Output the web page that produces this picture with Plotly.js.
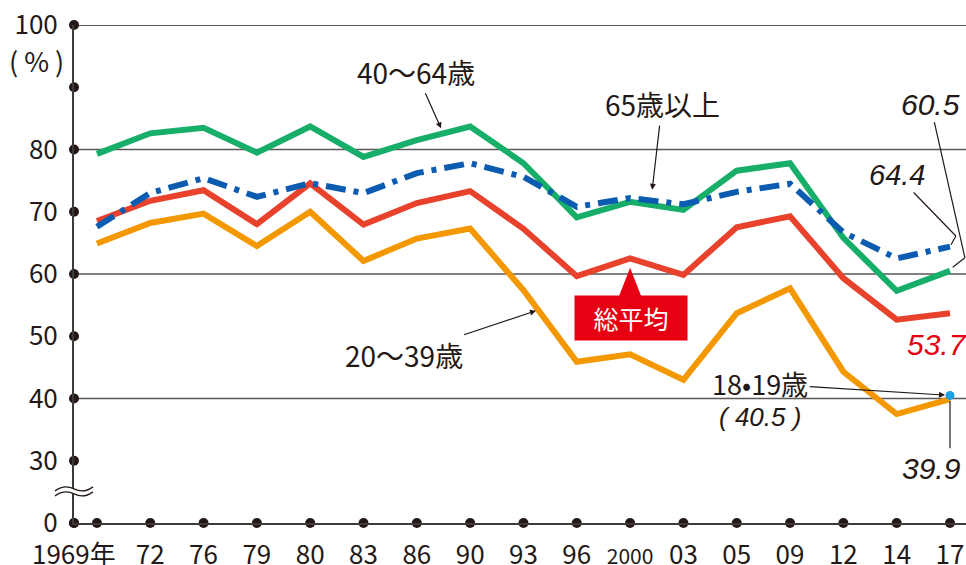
<!DOCTYPE html>
<html>
<head>
<meta charset="utf-8">
<script src="https://cdn.plot.ly/plotly-3.0.1.min.js"></script>
<style>html,body{margin:0;padding:0;background:#fff;}#chart{width:966px;height:565px;}</style>
</head>
<body>
<div id="chart"></div>
<script>
// ---- data ----
const years = ["1969","72","76","79","80","83","86","90","93","96","2000","03","05","09","12","14","17"];
const xLabels = ["","72","76","79","80","83","86","90","93","96","<span style=\"font-size:21px\">2000</span>","03","05","09","12","14","17"];
const age40to64 = [79.3,82.6,83.5,79.5,83.7,78.8,81.5,83.7,77.8,69.1,71.6,70.3,76.6,77.8,65.8,57.3,60.5];
const age65plus = [67.6,73.0,75.4,72.4,74.6,73.0,76.2,77.8,75.6,70.8,72.2,71.2,73.2,74.5,66.7,62.5,64.4];
const overall   = [68.51,71.76,73.45,68.01,74.57,67.94,71.40,73.31,67.26,59.65,62.49,59.86,67.51,69.28,59.32,52.66,53.68];
const age20to39 = [64.9,68.2,69.7,64.5,70.0,62.1,65.7,67.3,57.4,45.9,47.1,43.0,53.7,57.7,44.3,37.5,39.9];
const age18to19Value = 40.5;   // 2017 only
const yTickVals = [20,30,40,50,60,70,80,90,100];
const yTickText = ["0","30","40","50","60","70","80","","100"];
const gridVals = [40,60,80,100];

// ---- layout constants ----
const idx = years.map((_, i) => i);
const last = idx[idx.length - 1];
const xMin = -0.43, xMax = 16.3, yMin = 20, yMax = 100;
const ink = "#231815";
const sans = '"Noto Sans CJK JP","Noto Sans",sans-serif';
const italicF = '"Liberation Sans",Arial,"Noto Sans CJK JP",sans-serif';

const traces = [
  {x: idx, y: age20to39, mode:"lines", line:{color:"#f39800", width:6}, hoverinfo:"skip"},
  {x: idx, y: overall, mode:"lines", line:{color:"#e8412c", width:6}, hoverinfo:"skip"},
  {x: idx, y: age40to64, mode:"lines", line:{color:"#17ae69", width:6}, hoverinfo:"skip"},
  {x: idx, y: age65plus, mode:"lines", line:{color:"#0b5cb0", width:6, dash:"20px,8px,5px,8px"}, hoverinfo:"skip"},
  // tick dots on axes
  {x: yTickVals.map(() => xMin), y: yTickVals, mode:"markers", marker:{color:ink, size:10}, cliponaxis:false, hoverinfo:"skip"},
  {x: [xMin].concat(idx), y: [xMin].concat(idx).map(() => yMin), mode:"markers", marker:{color:ink, size:10}, cliponaxis:false, hoverinfo:"skip"},
  {x: [last], y: [age18to19Value], mode:"markers", marker:{color:"#1aa0e3", size:9}, cliponaxis:false, hoverinfo:"skip"}
];

const shapes = gridVals.map(v => ({type:"line", xref:"paper", yref:"y", x0:0, x1:1, y0:v, y1:v,
  line:{color: v === 100 ? ink : "#595757", width: v === 100 ? 1.6 : 1.3}, layer:"below"}));
// axis break (wavy double line), anchored on the y axis line
const brk = {xref:"paper", yref:"paper", xsizemode:"pixel", ysizemode:"pixel", xanchor:0, yanchor:(25 - yMin) / (yMax - yMin), layer:"above"};
shapes.push(Object.assign({type:"path", path:"M-19,1 Q-9.5,8 0,3 Q9.5,-2 19,5 L19,0 Q9.5,-7 0,-2 Q-9.5,3 -19,-4 Z", fillcolor:"#fff", line:{width:0}}, brk));
shapes.push(Object.assign({type:"path", path:"M-19,1 Q-9.5,8 0,3 Q9.5,-2 19,5", line:{color:ink, width:1.3}}, brk));
shapes.push(Object.assign({type:"path", path:"M-19,-4 Q-9.5,3 0,-2 Q9.5,-7 19,0", line:{color:ink, width:1.3}}, brk));
// leader segments
shapes.push({type:"line", xref:"x", yref:"y", x0:16.28, y0:62.6, x1:16.05, y1:61.1, line:{color:ink, width:1.2}});
shapes.push({type:"line", xref:"x", yref:"y", x0:16.11, y0:66.1, x1:16.02, y1:64.7, line:{color:ink, width:1.2}});
shapes.push({type:"line", xref:"x", yref:"y", x0:last, y0:39.6, x1:last, y1:32.0, line:{color:ink, width:1.2}});
// red pointer triangle for 総平均
shapes.push({type:"path", xref:"x", yref:"y", path:"M 9.78,56.2 L 10.0,61.0 L 10.22,56.2 Z", fillcolor:"#e60012", line:{width:0}});

const lab = (text, x, y, extra) => Object.assign({text, x, y, xref:"x", yref:"y", showarrow:false,
  font:{family:sans, size:28, color:ink}}, extra || {});
const arr = {showarrow:true, arrowhead:2, arrowsize:1, arrowwidth:1.2, arrowcolor:ink, axref:"x", ayref:"y"};

const annotations = [
  {text:"(&nbsp;%&nbsp;)", xref:"paper", yref:"paper", x:-0.042, y:0.928, xanchor:"center", yanchor:"middle", showarrow:false,
   font:{family:sans, size:27, color:ink}},
  {text:"1969年", xref:"x", yref:"paper", x:0, y:0, xanchor:"right", yanchor:"top", xshift:21, yshift:-9, showarrow:false,
   font:{family:sans, size:26, color:ink}},
  lab("40～64歳", 6.47, 83.1, Object.assign({}, arr, {ax:5.98, ay:92.5, standoff:2})),
  lab("65歳以上", 10.41, 73.2, Object.assign({}, arr, {ax:10.6, ay:87.3, standoff:2})),
  lab("20～39歳", 8.27, 54.2, Object.assign({}, arr, {ax:5.75, ay:47.0, standoff:2})),
  lab("18•19歳", last, age18to19Value, Object.assign({}, arr, {ax:12.44, ay:42.4, standoff:5, font:{family:sans, size:27, color:ink}})),
  lab("<i>(&nbsp;40.5&nbsp;)</i>", 12.44, 37.1, {font:{family:italicF, size:26, color:ink}}),
  lab("<i>60.5</i>", 16.28, 62.6, {showarrow:true, arrowhead:0, arrowwidth:1.2, arrowcolor:ink, axref:"x", ayref:"y", ax:15.63, ay:87.3,
      font:{family:italicF, size:30, color:ink}}),
  lab("<i>64.4</i>", 16.11, 66.1, {showarrow:true, arrowhead:0, arrowwidth:1.2, arrowcolor:ink, axref:"x", ayref:"y", ax:15.0, ay:75.9,
      font:{family:italicF, size:29, color:ink}}),
  lab("<i>53.7</i>", 15.76, 48.6, {font:{family:italicF, size:30, color:"#e60012"}}),
  lab("<i>39.9</i>", 15.65, 28.7, {font:{family:italicF, size:30, color:ink}}),
  lab("総平均", 10.02, 52.9, {bgcolor:"#e60012", width:110, height:42,
      font:{family:sans, size:25, color:"#fff"}})
];

const layout = {
  width:966, height:565,
  margin:{l:74, r:0, t:25, b:42},
  paper_bgcolor:"#fff", plot_bgcolor:"#fff",
  showlegend:false,
  xaxis:{range:[xMin, xMax], tickvals:idx, ticktext:xLabels, showgrid:false, zeroline:false,
         showline:true, linecolor:"#3e3a39", linewidth:2, ticks:"outside", ticklen:8, tickcolor:"rgba(0,0,0,0)",
         tickfont:{family:sans, size:26, color:ink}},
  yaxis:{range:[yMin, yMax], tickvals:yTickVals, ticktext:yTickText, showgrid:false, zeroline:false,
         showline:true, linecolor:"#3e3a39", linewidth:2, ticks:"outside", ticklen:9, tickcolor:"rgba(0,0,0,0)",
         tickfont:{family:sans, size:26, color:ink}},
  shapes, annotations
};

Plotly.newPlot("chart", traces, layout, {staticPlot:true, displayModeBar:false});
</script>
</body>
</html>
